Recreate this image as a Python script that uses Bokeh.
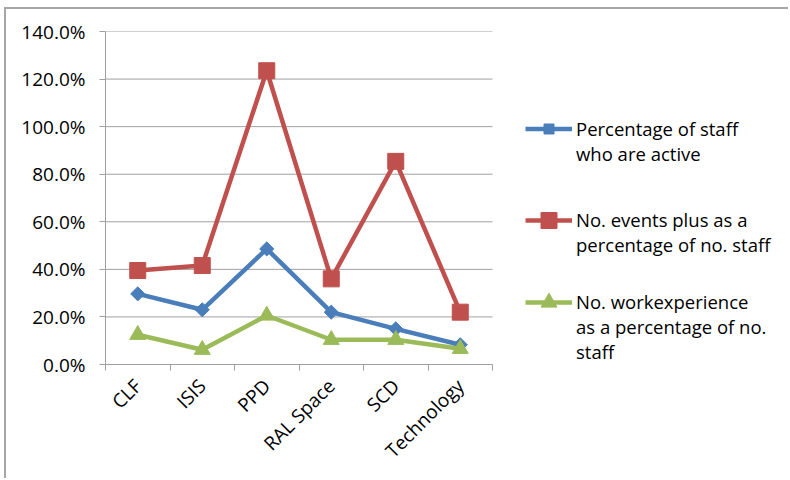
import math
from bokeh.plotting import figure
from bokeh.models import Range1d, FixedTicker, NumeralTickFormatter, Legend, LegendItem
from bokeh.embed import file_html
from bokeh.resources import INLINE

categories = ["CLF", "ISIS", "PPD", "RAL Space", "SCD", "Technology"]
active_pct = [0.297, 0.230, 0.486, 0.220, 0.150, 0.083]
events_pct = [0.395, 0.416, 1.235, 0.360, 0.854, 0.220]
workexp_pct = [0.125, 0.062, 0.206, 0.104, 0.104, 0.066]
y_ticks = [0.0, 0.2, 0.4, 0.6, 0.8, 1.0, 1.2, 1.4]
series_names = [
    "Percentage of staff\nwho are active",
    "No. events plus as a\npercentage of no. staff",
    "No. workexperience\nas a percentage of no.\nstaff",
]

n = len(categories)
xs = [i + 0.5 for i in range(n)]
bounds = [float(i) for i in range(n + 1)]

FONT = "Open Sans"
GRAY = "#a0a0a0"

W, H = 784, 471
LEFT, RIGHT, TOP, BOTTOM = 99, 6, 22, 116
PLOT_W = 387                     # width of the category area
FRAME_W = W - LEFT - RIGHT
x_end = n * FRAME_W / PLOT_W

p = figure(width=W, height=H, x_range=Range1d(0, x_end), y_range=Range1d(0, y_ticks[-1]),
           output_backend="svg", toolbar_location=None,
           min_border_left=LEFT, min_border_right=RIGHT, min_border_top=TOP, min_border_bottom=BOTTOM)
p.styles = {"margin-left": "4px", "margin-top": "7px",
            "border-left": "2px solid #a6a6a6", "border-top": "2px solid #a6a6a6"}
p.outline_line_color = None
p.background_fill_color = "white"
p.border_fill_color = "white"

p.xgrid.visible = False
p.ygrid.visible = False
# horizontal gridlines limited to the category area
p.segment(x0=[0] * len(y_ticks), x1=[n] * len(y_ticks), y0=y_ticks, y1=y_ticks,
          line_color=GRAY, line_width=1)

p.yaxis.ticker = FixedTicker(ticks=y_ticks)
p.yaxis.formatter = NumeralTickFormatter(format="0.0%")
p.yaxis.axis_line_color = GRAY
p.yaxis.major_tick_line_color = GRAY
p.yaxis.major_tick_out = 6
p.yaxis.major_tick_in = 0
p.yaxis.minor_tick_line_color = None
p.yaxis.major_label_standoff = 14
p.yaxis.major_label_text_font = FONT
p.yaxis.major_label_text_font_size = "19px"
p.yaxis.major_label_text_color = "black"

p.xaxis.ticker = FixedTicker(ticks=xs, minor_ticks=bounds)
p.xaxis.bounds = (0, n)
p.xaxis.major_label_overrides = {x: c for x, c in zip(xs, categories)}
p.xaxis.axis_line_color = GRAY
p.xaxis.major_tick_line_color = None
p.xaxis.minor_tick_line_color = GRAY
p.xaxis.minor_tick_out = 6
p.xaxis.minor_tick_in = 0
p.xaxis.major_label_orientation = math.pi / 4
p.xaxis.major_label_standoff = 12
p.xaxis.major_label_text_font = FONT
p.xaxis.major_label_text_font_size = "19px"
p.xaxis.major_label_text_color = "black"

BLUE = "#4a7ebb"
RED = "#c0504d"
GREEN = "#9bbb59"

l1 = p.line(xs, active_pct, line_width=4.5, color=BLUE)
m1 = p.scatter(xs, active_pct, marker="square", angle=math.pi / 4, size=10, color=BLUE)
l2 = p.line(xs, events_pct, line_width=4.5, color=RED)
m2 = p.scatter(xs, events_pct, marker="square", size=16, color=RED)
l3 = p.line(xs, workexp_pct, line_width=4.5, color=GREEN)
m3 = p.scatter(xs, workexp_pct, marker="triangle", size=16, color=GREEN)


def make_legend(label, renderers, loc, glyph_h, line_h=1.4):
    # leading blank lines keep the glyph level with the label's first line
    k = label.count("\n")
    lg = Legend(items=[LegendItem(label="\n" * k + label, renderers=renderers)], location=loc)
    lg.border_line_color = None
    lg.background_fill_alpha = 0
    lg.padding = 0
    lg.margin = 0
    lg.glyph_width = 47
    lg.glyph_height = glyph_h
    lg.label_standoff = 4
    lg.label_text_font = FONT
    lg.label_text_font_size = "18.5px"
    lg.label_text_line_height = line_h
    lg.label_text_color = "black"
    p.add_layout(lg, "center")


make_legend(series_names[0], [l1, m1], (420, 198), 25)
make_legend(series_names[1], [l2, m2], (420, 107), 40)
make_legend(series_names[2], [l3, m3], (420, 0), 40, 1.3)

open("out.html", "w").write(file_html(p, INLINE))
